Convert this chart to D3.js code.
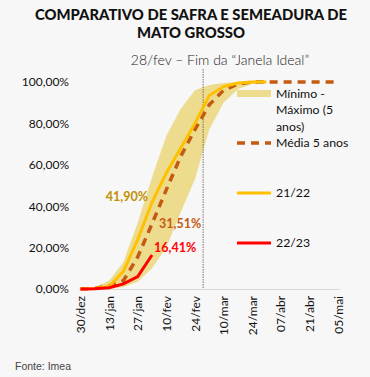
<!DOCTYPE html>
<html>
<head>
<meta charset="utf-8">
<script src="https://cdn.jsdelivr.net/npm/d3@7"></script>
<style>
  body { margin: 0; background: #f7f7f7; }
  svg { display: block; font-family: Lato, sans-serif; }
</style>
</head>
<body>
<div class="wrapper"></div>
<script>
const w = 370
const h = 377

// weekly dates (dd/mm)
const weeks = ["2022-12-30", "2023-01-06", "2023-01-13", "2023-01-20", "2023-01-27", "2023-02-03",
  "2023-02-10", "2023-02-17", "2023-02-24", "2023-03-03", "2023-03-10", "2023-03-17", "2023-03-24",
  "2023-03-31", "2023-04-07", "2023-04-14", "2023-04-21", "2023-04-28", "2023-05-05"]
const bandMin = [0, 0, 0, 1, 3.5, 10, 20, 37, 53, 77, 90, 96.5, 99, 100]
const bandMax = [0, 0.8, 4, 13, 32, 54, 74, 87, 96, 98.5, 99.5, 100, 100, 100]
const media5 = [0, 0.3, 1.5, 4, 15.5, 31.51, 48, 64, 77, 89, 96, 99, 100, 100, 100, 100, 100, 100, 100]
const safra2122 = [0, 0.2, 1.2, 8.5, 24, 41.9, 56, 68, 80, 93.5, 97.8, 99.5, 100, 100]
const safra2223 = [0, 0.1, 0.6, 2.5, 6, 16.41]

const tickDates = ["2022-12-30", "2023-01-13", "2023-01-27", "2023-02-10", "2023-02-24", "2023-03-10",
  "2023-03-24", "2023-04-07", "2023-04-21", "2023-05-05"]
const tickLabels = ["30/dez", "13/jan", "27/jan", "10/fev", "24/fev", "10/mar", "24/mar", "07/abr", "21/abr", "05/mai"]
const yTicks = [0, 20, 40, 60, 80, 100]
const fimJanela = "2023-02-28"

const parse = d3.timeParse("%Y-%m-%d")
const dates = weeks.map(parse)

const xScale = d3.scaleTime().domain([dates[0], dates[dates.length - 1]]).range([80.5, 338])
const yScale = d3.scaleLinear().domain([0, 100]).range([289, 82])
const pct = d3.format(".2f")
const fmt = (v) => pct(v).replace(".", ",") + "%"

const svg = d3.select(".wrapper")
  .append("svg")
  .attr("width", w)
  .attr("height", h)

// title
svg.append("text")
  .attr("x", 191).attr("y", 20)
  .attr("text-anchor", "middle")
  .attr("font-size", 14.8).attr("font-weight", 900).attr("fill", "#111")
  .text("COMPARATIVO  DE SAFRA E SEMEADURA DE")
svg.append("text")
  .attr("x", 191).attr("y", 38)
  .attr("text-anchor", "middle")
  .attr("font-size", 14.8).attr("font-weight", 900).attr("fill", "#111")
  .text("MATO GROSSO")

svg.append("text")
  .attr("x", 220).attr("y", 65)
  .attr("text-anchor", "middle")
  .attr("font-size", 14).attr("font-weight", 300).attr("fill", "#222")
  .text("28/fev – Fim da “Janela Ideal”")

// x axis
const xAxis = d3.axisBottom(xScale)
  .tickValues(tickDates.map(parse))
  .tickSize(0)
  .tickFormat((d, i) => tickLabels[i])

const gx = svg.append("g")
  .attr("transform", "translate(0," + yScale(0) + ")")
  .call(xAxis)
gx.select(".domain").attr("stroke", "#d9d9d9").attr("d", "M79,0.5H340")
gx.selectAll("text")
  .attr("font-family", "Lato, sans-serif")
  .attr("font-size", 12)
  .attr("fill", "#111")
  .attr("transform", "rotate(-90)")
  .attr("text-anchor", "end")
  .attr("x", -7).attr("y", 0).attr("dy", "0.35em")

// y axis
const yAxis = d3.axisLeft(yScale)
  .tickValues(yTicks)
  .tickSize(0)
  .tickFormat(fmt)
const gy = svg.append("g")
  .attr("transform", "translate(69,0)")
  .call(yAxis)
gy.select(".domain").remove()
gy.selectAll("text")
  .attr("font-family", "Lato, sans-serif")
  .attr("font-size", 12)
  .attr("fill", "#111")
  .attr("x", 0)

// min-max band
const area = d3.area()
  .x((d, i) => xScale(dates[i]))
  .y0((d) => yScale(d[0]))
  .y1((d) => yScale(d[1]))
svg.append("path")
  .datum(bandMin.map((v, i) => [v, bandMax[i]]))
  .attr("d", area)
  .attr("fill", "#eedc8e")

const line = d3.line()
  .x((d, i) => xScale(dates[i]))
  .y((d) => yScale(d))

// vertical line 28/fev
svg.append("line")
  .attr("x1", xScale(parse(fimJanela))).attr("x2", xScale(parse(fimJanela)))
  .attr("y1", 69).attr("y2", yScale(0))
  .attr("stroke", "#555").attr("stroke-width", 0.8)
  .attr("stroke-dasharray", "1.5,1")

svg.append("path")
  .datum(media5)
  .attr("d", line)
  .attr("fill", "none")
  .attr("stroke", "#c55a11")
  .attr("stroke-width", 3.5)
  .attr("stroke-dasharray", "8,6")

svg.append("path")
  .datum(safra2122)
  .attr("d", line)
  .attr("fill", "none")
  .attr("stroke", "#ffc000")
  .attr("stroke-width", 3)

svg.append("path")
  .datum(safra2223)
  .attr("d", line)
  .attr("fill", "none")
  .attr("stroke", "#ff0000")
  .attr("stroke-width", 3)

// value labels at last 22/23 week
const lastI = safra2223.length - 1
const lx = xScale(dates[lastI])
svg.append("text")
  .attr("x", lx - 4).attr("y", yScale(safra2122[lastI]) - 6).attr("dy", "0.35em")
  .attr("text-anchor", "end")
  .attr("font-size", 12.5).attr("font-weight", 700).attr("fill", "#bf9000")
  .text(fmt(safra2122[lastI]))
svg.append("text")
  .attr("x", lx + 7).attr("y", yScale(media5[lastI])).attr("dy", "0.35em")
  .attr("font-size", 12.5).attr("font-weight", 700).attr("fill", "#c55a11")
  .text(fmt(media5[lastI]))
svg.append("text")
  .attr("x", lx + 2).attr("y", yScale(safra2223[lastI]) - 7).attr("dy", "0.35em")
  .attr("font-size", 12.5).attr("font-weight", 700).attr("fill", "#ff0000")
  .text(fmt(safra2223[lastI]))

// legend
const lg = svg.append("g").attr("font-size", 12.3).attr("fill", "#111")
lg.append("rect").attr("x", 237).attr("y", 90).attr("width", 34).attr("height", 7).attr("fill", "#eedc8e")
const bandText = ["Mínimo -", "Máximo (5", "anos)"]
bandText.forEach((t, i) => {
  lg.append("text").attr("x", 276).attr("y", 93.5 + i * 16.5).attr("dy", "0.35em").text(t)
})
lg.append("line").attr("x1", 237).attr("x2", 271).attr("y1", 143).attr("y2", 143)
  .attr("stroke", "#c55a11").attr("stroke-width", 3.5).attr("stroke-dasharray", "8,6")
lg.append("text").attr("x", 276).attr("y", 143).attr("dy", "0.35em").text("Média 5 anos")
lg.append("line").attr("x1", 237).attr("x2", 271).attr("y1", 193).attr("y2", 193)
  .attr("stroke", "#ffc000").attr("stroke-width", 3)
lg.append("text").attr("x", 276).attr("y", 193).attr("dy", "0.35em").text("21/22")
lg.append("line").attr("x1", 237).attr("x2", 271).attr("y1", 243).attr("y2", 243)
  .attr("stroke", "#ff0000").attr("stroke-width", 3)
lg.append("text").attr("x", 276).attr("y", 243).attr("dy", "0.35em").text("22/23")

svg.append("text")
  .attr("x", 15).attr("y", 366).attr("dy", "0.35em")
  .attr("font-family", "'Liberation Sans', Arial, sans-serif")
  .attr("font-size", 10.5).attr("fill", "#444")
  .text("Fonte: Imea")
</script>
</body>
</html>
